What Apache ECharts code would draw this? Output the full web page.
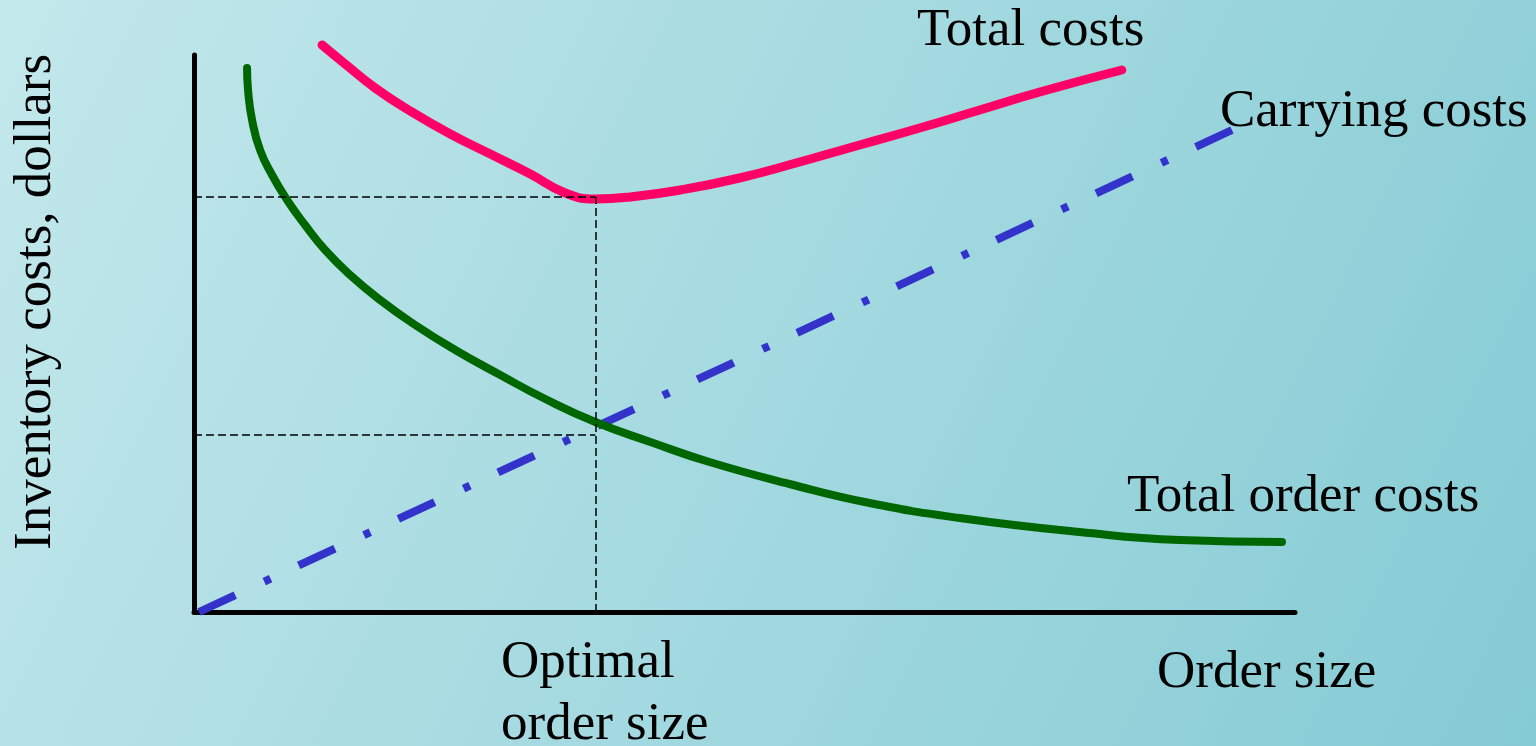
<!DOCTYPE html>
<html>
<head>
<meta charset="utf-8">
<script src="https://cdn.jsdelivr.net/npm/echarts@6/dist/echarts.min.js"></script>
<style>
html,body{margin:0;padding:0;width:1536px;height:746px;overflow:hidden;}
#chart{width:1536px;height:746px;}
</style>
</head>
<body>
<div id="chart"></div>
<script>
// Total order costs (green)
const orderCostX = [5.3, 5.4, 5.8, 6.6, 7.8, 9.3, 11.1, 13.1, 15.6, 18.6, 22.1, 26.1, 30.6, 35.1, 40.1, 45.6, 51.5, 59.5, 67.5, 76.5, 88.5, 98.5, 108.7];
const orderCostY = [54.4, 52.2, 49.2, 46.2, 43.7, 41.2, 38.7, 36.2, 33.7, 31.2, 28.7, 26.2, 23.7, 21.3, 19.0, 17.0, 15.0, 12.8, 10.9, 9.4, 8.0, 7.2, 7.0];
// Total costs (pink)
const totalCostX = [12.8, 15.1, 18.1, 21.6, 25.6, 29.6, 33.6, 37.1, 40.1, 43.6, 48.6, 54.5, 60.5, 66.5, 72.5, 78.5, 84.5, 92.7];
const totalCostY = [56.7, 54.8, 52.4, 50.1, 47.8, 45.8, 43.8, 41.9, 41.3, 41.5, 42.2, 43.4, 45.0, 46.7, 48.4, 50.2, 52.0, 54.2];
// Carrying costs (blue)
const carryX = [0.5, 103.7];
const carryY = [0, 48.2];
// Reference levels
const optimalX = 40.1;
const minTotalY = 41.5;
const crossY = 17.7;
const labels = {
  total: 'Total costs',
  carrying: 'Carrying costs',
  order: 'Total order costs',
  xName: 'Order size',
  opt1: 'Optimal',
  opt2: 'order size',
  yName: 'Inventory costs, dollars'
};

const zip = (xs, ys) => xs.map((x, i) => [x, ys[i]]);
const FONT = '53px "Liberation Serif", "Times New Roman", serif';

const chart = echarts.init(document.getElementById('chart'), null, {renderer: 'canvas'});
const txt = (t, x, y, extra) => Object.assign({
  type: 'text', x: x, y: y, silent: true,
  style: {text: t, font: FONT, fill: '#000', textAlign: 'left', textVerticalAlign: 'middle', verticalAlign: 'middle'}
}, extra || {});

chart.setOption({
  animation: false,
  backgroundColor: {
    type: 'linear', x: 0, y: 0, x2: 1, y2: 1,
    colorStops: [{offset: 0, color: '#c3e8ec'}, {offset: 1, color: '#85cbd4'}]
  },
  grid: {left: 194, right: 241, top: 55, bottom: 134, containLabel: false},
  xAxis: {
    type: 'value', min: 0, max: 110,
    axisLine: {show: true, onZero: false, lineStyle: {color: '#000', width: 5}},
    axisTick: {show: false}, axisLabel: {show: false}, splitLine: {show: false}
  },
  yAxis: {
    type: 'value', min: 0, max: 55.7,
    axisLine: {show: true, onZero: false, lineStyle: {color: '#000', width: 5}},
    axisTick: {show: false}, axisLabel: {show: false}, splitLine: {show: false}
  },
  series: [
    {
      type: 'line', data: [], silent: true,
      markLine: {
        silent: true, symbol: 'none', label: {show: false},
        lineStyle: {color: '#000', width: 1.5, type: [8, 4]},
        data: [
          [{coord: [0, minTotalY]}, {coord: [optimalX, minTotalY]}],
          [{coord: [0, crossY]}, {coord: [optimalX, crossY]}],
          [{coord: [optimalX, 0]}, {coord: [optimalX, minTotalY]}]
        ]
      }
    },
    {
      name: labels.carrying, type: 'line', data: zip(carryX, carryY), clip: false,
      showSymbol: false, symbol: 'none',
      lineStyle: {color: '#3333cc', width: 8, type: [40, 32, 7, 31], cap: 'butt'}
    },
    {
      name: labels.order, type: 'line', data: zip(orderCostX, orderCostY), clip: false,
      showSymbol: false, symbol: 'none', smooth: 0.5,
      lineStyle: {color: '#006600', width: 8, cap: 'round', join: 'round'}
    },
    {
      name: labels.total, type: 'line', data: zip(totalCostX, totalCostY), clip: false,
      showSymbol: false, symbol: 'none', smooth: 0.5,
      lineStyle: {color: '#ff0066', width: 9, cap: 'round', join: 'round'}
    }
  ],
  graphic: [
    txt(labels.total, 917, 31),
    txt(labels.carrying, 1220, 112),
    txt(labels.order, 1127, 497),
    txt(labels.xName, 1157, 673),
    txt(labels.opt1, 501, 663),
    txt(labels.opt2, 501, 725),
    {
      type: 'text', x: 36, y: 302, rotation: Math.PI / 2, silent: true,
      style: {text: labels.yName, font: FONT, fill: '#000', textAlign: 'center', textVerticalAlign: 'middle', verticalAlign: 'middle'}
    }
  ]
});
</script>
</body>
</html>
